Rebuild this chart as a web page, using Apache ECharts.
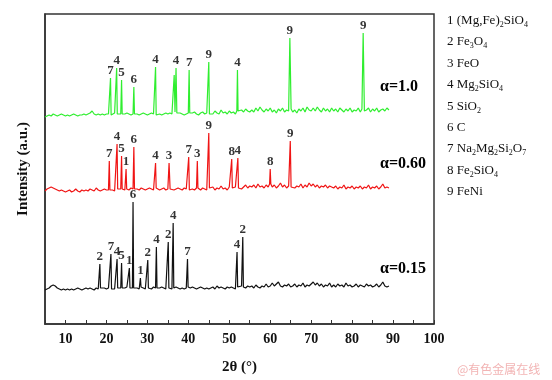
<!DOCTYPE html>
<html><head><meta charset="utf-8">
<script src="https://cdn.jsdelivr.net/npm/echarts@6/dist/echarts.min.js"></script>
<style>html,body{margin:0;padding:0;background:#fff}#c{width:552px;height:380px}</style>
</head><body><div id="c"></div>
<script>
// 2θ start and step of the baseline arrays
const xStart = 5, xStep = 0.5;
// baselines (intensity, arbitrary units) from 5° to 89° every 0.5°
const greenBase = [207,208,209,208,210,209,208,209,210,209,208,
209,208,209,210,209,208,209,209,210,209,
210,211,213,210,209,210,209,210,209,210,
210,209,210,211,210,209,210,209,210,211,
210,209,210,211,210,209,210,211,210,209,
210,211,210,209,211,210,209,210,211,210,
211,210,212,211,210,211,210,209,210,211,
210,211,212,210,209,211,212,210,211,210,
212,210,213,211,210,214,211,212,210,213,
211,212,210,213,211,214,212,215,213,212,
214,212,216,213,217,214,212,215,213,216,
212,214,211,215,213,216,212,214,213,215,
212,214,211,215,213,216,212,217,214,213,
216,213,217,214,212,216,213,215,212,216,
213,215,212,216,214,212,215,213,216,212,
214,213,216,212,215,213,214,216,212,215,
213,216,212,214,215,213,216,214];
const redBase = [133,135,136,137,136,135,134,133,134,133,132,
133,134,132,133,135,133,132,134,133,134,
133,135,134,133,136,134,133,134,135,134,
134,135,134,133,135,134,135,136,134,135,
134,136,135,134,135,134,136,135,134,135,
136,135,134,136,135,134,135,136,134,135,
135,136,134,135,136,135,134,136,135,134,
136,135,134,136,135,134,136,135,134,136,
135,137,134,136,135,138,135,136,134,137,
136,135,137,136,138,135,137,139,136,138,
137,139,136,140,137,138,136,139,137,140,
137,139,136,138,141,137,139,136,138,137,
139,136,138,137,140,136,139,137,141,138,
140,137,139,136,138,137,139,136,138,137,
136,138,135,137,136,139,135,137,136,138,
135,137,136,138,135,137,136,139,135,137,
136,138,135,137,140,136,137,136];
const blackBase = [34,35,36,38,39,38,36,35,34,35,34,
35,34,35,34,35,36,35,34,35,36,
35,36,35,34,36,35,36,35,36,35,
36,35,36,35,36,37,36,35,36,37,
36,35,36,37,36,35,37,36,35,36,
36,35,37,36,35,36,37,36,35,36,
36,35,36,37,36,35,36,35,36,37,
36,37,36,35,36,37,36,35,36,35,
36,37,35,38,36,37,36,35,37,36,
37,36,35,37,36,38,37,36,38,37,
38,36,39,37,36,38,37,40,37,38,
41,38,40,42,38,37,39,38,40,37,
38,40,37,39,38,41,37,39,38,40,
42,39,41,38,40,37,39,38,41,37,
39,37,40,38,39,37,41,38,39,37,
38,40,37,39,38,37,40,38,39,37,
38,40,37,39,42,38,37,38];
// peaks: [2θ, peak top, phase label, half width]
const greenPeaks = [[21.0,246,'7'],[22.5,256,'4'],[23.7,244,'5'],[26.7,237,'6'],[32.0,257,'4'],
[36.55,249,'',0.2],[37.0,256,'4',0.2],[40.2,254,'7'],[45.0,262,'9'],[52.0,254,'4'],
[64.8,286,'9',0.3],[82.7,291,'9',0.3]];
const redPeaks = [[20.7,163,'7'],[22.6,180,'4'],[23.7,168,'5'],[24.8,155,'1'],[26.7,177,'6'],
[32.0,161,'4'],[35.3,161,'3',0.25],[40.1,167,'7'],[42.2,163,'3'],[45.0,191,'9'],
[50.6,165,'8'],[52.1,166,'4'],[60.0,155,'8'],[64.9,183,'9',0.2]];
const blackPeaks = [[18.4,60,'2'],[21.1,70,'7'],[22.6,65,'4'],[23.7,61,'5'],[25.6,56,'1'],
[26.5,122,'6'],[28.3,46,'1'],[30.1,64,'2'],[32.2,77,'4'],[35.1,82,'2'],
[36.3,101,'4'],[39.8,65,'7'],[51.9,72,'4'],[53.3,87,'2']];
const xTicks = [10,20,30,40,50,60,70,80,90,100];
const sampleNames = ['α=1.0','α=0.60','α=0.15'];
const phaseNames = ['1 (Mg,Fe){s|2}SiO{s|4}','2 Fe{s|3}O{s|4}','3 FeO','4 Mg{s|2}SiO{s|4}','5 SiO{s|2}',
'6 C','7 Na{s|2}Mg{s|2}Si{s|2}O{s|7}','8 Fe{s|2}SiO{s|4}','9 FeNi'];

function build(base, peaks){
  let pts = base.map((y,i)=>[xStart+i*xStep, y]);
  peaks.forEach(p=>{
    const hw = p[3] || 0.15;
    const near = base[Math.round((p[0]-xStart)/xStep)];
    pts = pts.filter(d => d[0] <= p[0]-hw || d[0] >= p[0]+hw);
    pts.push([p[0]-hw, near],[p[0],p[1]],[p[0]+hw, near]);
  });
  pts.sort((a,b)=>a[0]-b[0]);
  return pts;
}
function labels(peaks){ return peaks.filter(p=>p[2]).map(p=>[p[0],p[1],p[2]]); }

const serif = 'Liberation Serif, Times New Roman, serif';
const chart = echarts.init(document.getElementById('c'));
const traces = [[greenBase,greenPeaks,'#2fee2f'],[redBase,redPeaks,'#f01414'],[blackBase,blackPeaks,'#111']];
const series = [];
traces.forEach(t=>{
  series.push({type:'line', data:build(t[0],t[1]), showSymbol:false, symbol:'none',
    lineStyle:{color:t[2], width:1.2}, animation:false});
  series.push({type:'scatter', data:labels(t[1]), symbolSize:0, encode:{x:0,y:1}, animation:false,
    label:{show:true, position:'top', distance:1, formatter:p=>p.data[2],
      fontFamily:serif, fontWeight:'bold', fontSize:13, color:'#000'}});
});
const sampleY = [88,165,270];
const graphics = sampleNames.map((s,i)=>({type:'text', left:380, top:sampleY[i]-9,
  style:{text:s, font:'bold 16px '+serif, fill:'#000'}}));
phaseNames.forEach((s,i)=>graphics.push({type:'text', left:447, top:14+i*21.4,
  style:{text:s, fontFamily:serif, fontSize:13, fill:'#111',
    rich:{s:{fontSize:8, fontFamily:serif, padding:[9,0,0,0]}}}}));
graphics.push({type:'text', left:457, top:363, style:{text:'@有色金属在线', font:'12px Noto Sans CJK SC', fill:'#f2b4b4'}});

chart.setOption({
  animation:false,
  grid:{left:45, right:118, top:14, bottom:56, show:true, borderColor:'#333', borderWidth:1.5},
  xAxis:{type:'value', min:5, max:100, interval:5,
    axisLine:{show:true, onZero:false, lineStyle:{color:'#333', width:1.5}},
    axisTick:{show:true, inside:true, length:4, lineStyle:{color:'#333'}},
    splitLine:{show:false},
    axisLabel:{formatter:v=>xTicks.includes(v)?String(v):'', fontFamily:serif, fontWeight:'bold', fontSize:14, color:'#111', margin:8},
    name:'2θ (°)', nameLocation:'middle', nameGap:36,
    nameTextStyle:{fontFamily:serif, fontWeight:'bold', fontSize:15, color:'#111'}},
  yAxis:{type:'value', min:0, max:310, axisLine:{show:true, lineStyle:{color:'#333', width:1.5}},
    axisTick:{show:false}, axisLabel:{show:false}, splitLine:{show:false},
    name:'Intensity (a.u.)', nameLocation:'middle', nameGap:14,
    nameTextStyle:{fontFamily:serif, fontWeight:'bold', fontSize:15, color:'#111'}},
  series:series,
  graphic:graphics
});
</script></body></html>
